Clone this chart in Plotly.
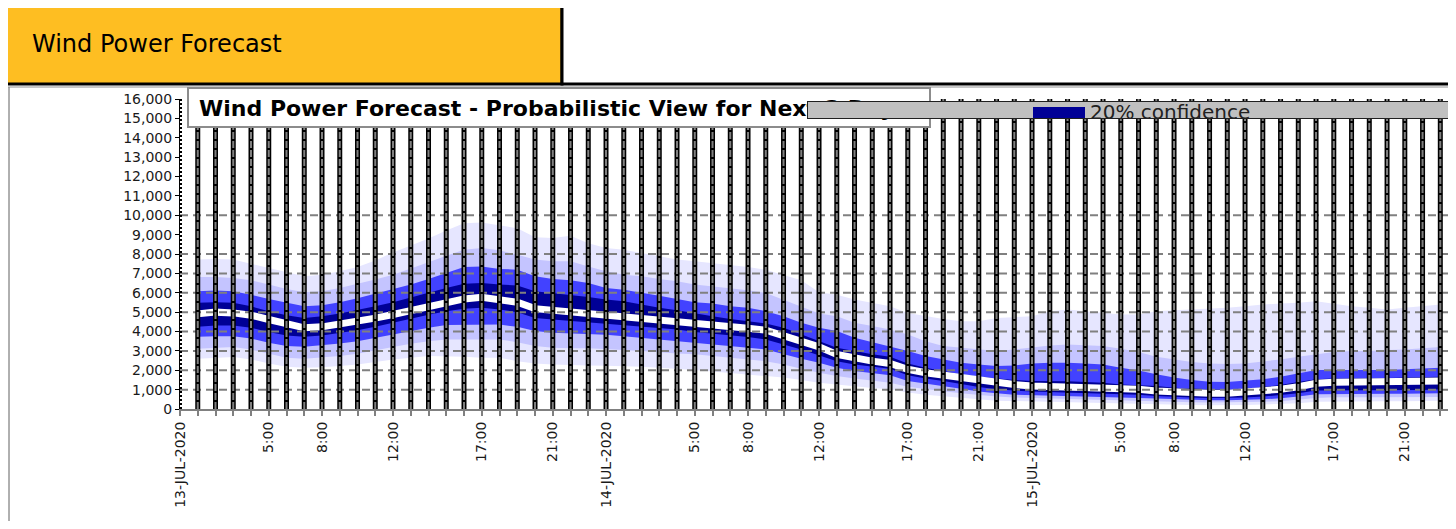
import plotly.graph_objects as go
import pandas as pd

# page body keeps an 8px margin, so the figure is sized to fit inside it
PAGE_OFF = 8
W, H = 1456 - 2 * PAGE_OFF, 529 - 2 * PAGE_OFF

# ---------------- data (MW) ----------------
hours = pd.date_range("2020-07-13 01:00", periods=71, freq="h")

median = [4910, 5000, 4960, 4840, 4620, 4380, 4190, 4240, 4360, 4500,
          4690, 4880, 5100, 5300, 5510, 5680, 5770, 5650, 5510, 5180,
          5100, 5030, 4960, 4890, 4790, 4720, 4650, 4570, 4450, 4360,
          4280, 4170, 4070, 3800, 3500, 3210, 2820, 2610, 2470, 2350,
          2050, 1870, 1750, 1620, 1450, 1330, 1260, 1190, 1170, 1150,
          1140, 1100, 1050, 1020, 930, 860, 830, 810, 810, 850,
          910, 1020, 1150, 1330, 1380, 1390, 1390, 1390, 1390, 1410, 1450]

conf20_high = [5480, 5510, 5480, 5300, 5050, 4840, 4700, 4790, 4930, 5100,
               5300, 5510, 5770, 6020, 6250, 6470, 6500, 6420, 6380, 6080,
               5990, 5900, 5780, 5650, 5560, 5390, 5220, 5100, 4930, 4790,
               4650, 4530, 4410, 4190, 3850, 3500, 3160, 2990, 2820, 2700,
               2350, 2130, 1960, 1790, 1670, 1570, 1500, 1450, 1450, 1430,
               1390, 1360, 1270, 1220, 1190, 1100, 1050, 1020, 1020, 1050,
               1140, 1240, 1390, 1530, 1580, 1600, 1600, 1600, 1620, 1630, 1670]
conf20_low = [4240, 4310, 4310, 4190, 3980, 3800, 3730, 3800, 3930, 4070,
              4240, 4450, 4650, 4860, 5050, 5180, 5220, 5130, 5000, 4700,
              4620, 4550, 4480, 4410, 4310, 4240, 4170, 4100, 3970, 3880,
              3800, 3710, 3590, 3330, 3070, 2780, 2470, 2300, 2180, 2080,
              1740, 1570, 1450, 1310, 1140, 1020, 950, 900, 850, 850,
              810, 790, 760, 730, 670, 620, 590, 570, 570, 590,
              640, 710, 810, 950, 980, 980, 980, 980, 980, 980, 1020]

conf40_high = [6080, 6110, 6080, 5900, 5680, 5480, 5300, 5360, 5510, 5720,
               5940, 6160, 6420, 6710, 7020, 7330, 7360, 7230, 7190, 6850,
               6710, 6640, 6500, 6250, 6160, 6020, 5850, 5680, 5510, 5440,
               5300, 5220, 5050, 4790, 4450, 4190, 4020, 3680, 3450, 3250,
               2990, 2730, 2560, 2390, 2300, 2220, 2250, 2350, 2390, 2390,
               2350, 2300, 2130, 1990, 1790, 1620, 1500, 1410, 1390, 1450,
               1530, 1670, 1840, 2010, 2010, 2010, 2010, 2010, 2050, 2080, 2130]
conf40_low = [3730, 3760, 3760, 3640, 3420, 3250, 3210, 3280, 3380, 3500,
              3680, 3850, 4020, 4190, 4330, 4360, 4360, 4360, 4240, 4020,
              3930, 3900, 3860, 3830, 3760, 3680, 3590, 3500, 3420, 3330,
              3250, 3160, 3070, 2820, 2590, 2390, 2130, 1960, 1840, 1740,
              1450, 1310, 1190, 1050, 900, 810, 740, 710, 670, 660,
              640, 620, 590, 570, 540, 500, 470, 450, 450, 470,
              500, 550, 640, 760, 790, 790, 790, 790, 790, 790, 810]

conf60_high = [6810, 6810, 6760, 6640, 6420, 6200, 6020, 6080, 6250, 6450,
               6680, 6930, 7230, 7570, 7910, 8220, 8310, 8190, 7960, 7710,
               7620, 7620, 7360, 7110, 6930, 6850, 6710, 6590, 6420, 6330,
               6250, 6130, 5990, 5650, 5300, 4930, 4790, 4450, 4280, 4100,
               3850, 3500, 3250, 3160, 3070, 2990, 3070, 3160, 3280, 3330,
               3280, 3250, 3110, 2940, 2700, 2560, 2420, 2350, 2320, 2350,
               2440, 2560, 2700, 2820, 2940, 2990, 2990, 3040, 3070, 3140, 3200]
conf60_low = [3110, 3160, 3200, 3070, 2850, 2650, 2590, 2650, 2730, 2850,
              3030, 3200, 3370, 3500, 3590, 3620, 3590, 3590, 3450, 3250,
              3160, 3140, 3130, 3090, 3040, 2990, 2940, 2870, 2820, 2730,
              2650, 2560, 2470, 2300, 2080, 1870, 1700, 1570, 1460, 1360,
              1150, 1020, 910, 810, 710, 640, 590, 550, 520, 500,
              490, 470, 450, 430, 400, 370, 350, 330, 330, 350,
              370, 400, 470, 570, 610, 610, 610, 610, 610, 610, 620]

conf80_high = [7710, 7740, 7710, 7500, 7280, 7050, 6850, 6930, 7110, 7330,
               7670, 8080, 8430, 8800, 9210, 9590, 9630, 9490, 9330, 8870,
               8820, 8940, 8560, 8310, 8220, 8050, 7880, 7710, 7620, 7530,
               7450, 7330, 7190, 6930, 6640, 6020, 5900, 5650, 5480, 5300,
               4960, 4790, 4650, 4530, 4530, 4700, 4760, 4790, 5050, 5130,
               5050, 4960, 4880, 4880, 5050, 5100, 5130, 5170, 5220, 5300,
               5390, 5440, 5480, 5560, 5440, 5300, 5220, 5130, 5220, 5300, 5390]
conf80_low = [2590, 2650, 2680, 2560, 2350, 2180, 2130, 2150, 2220, 2300,
              2420, 2560, 2650, 2730, 2730, 2700, 2650, 2650, 2470, 2350,
              2300, 2270, 2250, 2230, 2220, 2180, 2130, 2080, 2010, 1940,
              1870, 1790, 1700, 1620, 1500, 1360, 1270, 1190, 1090, 1020,
              850, 740, 660, 570, 500, 430, 400, 370, 350, 330,
              330, 310, 300, 280, 260, 230, 210, 190, 190, 210,
              230, 250, 300, 370, 400, 400, 400, 400, 400, 400, 420]

tick_times = ["2020-07-13 00:00", "2020-07-13 05:00", "2020-07-13 08:00",
              "2020-07-13 12:00", "2020-07-13 17:00", "2020-07-13 21:00",
              "2020-07-14 00:00", "2020-07-14 05:00", "2020-07-14 08:00",
              "2020-07-14 12:00", "2020-07-14 17:00", "2020-07-14 21:00",
              "2020-07-15 00:00", "2020-07-15 05:00", "2020-07-15 08:00",
              "2020-07-15 12:00", "2020-07-15 17:00", "2020-07-15 21:00"]
tick_labels = ["13-JUL-2020", "5:00", "8:00", "12:00", "17:00", "21:00",
               "14-JUL-2020", "5:00", "8:00", "12:00", "17:00", "21:00",
               "15-JUL-2020", "5:00", "8:00", "12:00", "17:00", "21:00"]
y_ticks = list(range(0, 16001, 1000))
dashed_levels = [1000, 2000, 3000, 4000, 5000, 6000, 7000, 8000, 10000]

header_title = "Wind Power Forecast"
chart_title = "Wind Power Forecast - Probabilistic View for Next 3 Days"
legend_label = "20% confidence"

# ---------------- styles ----------------
X_START = "2020-07-13 00:00"
X_END = "2020-07-15 23:26"
Y_MAX = 16000
FONT = "DejaVu Sans"
C_80 = "#E6E6FF"
C_60 = "#C4C4FF"
C_40 = "#4242FF"
C_20 = "#000096"


def px_x(x):
    """screen x (px) -> paper fraction"""
    return (x - PAGE_OFF) / W


def px_y(y):
    """screen y (px) -> paper fraction"""
    return 1 - (y - PAGE_OFF) / H


fig = go.Figure()
hx = list(hours)


def add_band(lo, hi, color, name):
    fig.add_trace(go.Scatter(
        x=hx + hx[::-1], y=list(hi) + list(lo)[::-1],
        fill="toself", fillcolor=color, mode="lines",
        line=dict(width=0), name=name, showlegend=False, hoverinfo="skip"))


add_band(conf80_low, conf80_high, C_80, "80% confidence")
add_band(conf60_low, conf60_high, C_60, "60% confidence")
add_band(conf40_low, conf40_high, C_40, "40% confidence")
add_band(conf20_low, conf20_high, C_20, "20% confidence")

fig.add_trace(go.Scatter(x=hx, y=median, mode="lines",
                         line=dict(color="white", width=7),
                         name="Forecast", showlegend=False, hoverinfo="skip"))

# horizontal dashed grid (drawn over the bands)
gx, gy = [], []
for lv in dashed_levels:
    gx += [X_START, X_END, None]
    gy += [lv, lv, None]
fig.add_trace(go.Scatter(x=gx, y=gy, mode="lines",
                         line=dict(color="#808080", width=2, dash="8px,5px"),
                         showlegend=False, hoverinfo="skip"))

# hourly vertical grid: black line with grey dashes inside
vx, vy = [], []
for t in hx:
    vx += [t, t, None]
    vy += [0, Y_MAX, None]
fig.add_trace(go.Scatter(x=vx, y=vy, mode="lines",
                         line=dict(color="black", width=5),
                         showlegend=False, hoverinfo="skip"))
fig.add_trace(go.Scatter(x=vx, y=vy, mode="lines",
                         line=dict(color="#808080", width=2, dash="7px,2px"),
                         showlegend=False, hoverinfo="skip"))
# dotted value axis line
fig.add_trace(go.Scatter(x=[X_START, X_START], y=[0, Y_MAX], mode="lines",
                         line=dict(color="black", width=4, dash="2px,2px"),
                         showlegend=False, hoverinfo="skip"))

fig.update_layout(
    width=W, height=H,
    margin=dict(l=0, r=0, t=0, b=0, autoexpand=False),
    paper_bgcolor="white", plot_bgcolor="white",
    showlegend=False,
    xaxis=dict(
        domain=[px_x(180), 1.0],
        type="date", range=[X_START, X_END],
        tickmode="array", tickvals=tick_times, ticktext=tick_labels,
        tickangle=-90, ticks="outside", ticklen=5, tickwidth=2,
        tickcolor="#808080",
        minor=dict(ticks="outside", dtick=3600000, tick0=X_START,
                   ticklen=5, tickwidth=2, tickcolor="#808080", showgrid=False),
        showgrid=False, zeroline=False,
        showline=True, linecolor="#808080", linewidth=2,
        tickfont=dict(family=FONT, size=14, color="#1a1a1a"),
    ),
    yaxis=dict(
        domain=[px_y(409), px_y(99)],
        range=[0, Y_MAX], tickmode="array", tickvals=y_ticks,
        tickformat=",d", ticks="outside", ticklen=4, tickcolor="black",
        showgrid=False, zeroline=False,
        showline=True, linecolor="black", linewidth=1,
        tickfont=dict(family=FONT, size=14, color="#1a1a1a"),
    ),
)

shapes = [
    # header boxes
    dict(type="rect", xref="paper", yref="paper",
         x0=px_x(3), x1=px_x(562), y0=px_y(84), y1=px_y(3),
         fillcolor="#FEBE22", line=dict(color="black", width=3), layer="above"),
    dict(type="rect", xref="paper", yref="paper",
         x0=px_x(562), x1=px_x(1452), y0=px_y(84), y1=px_y(3),
         fillcolor="white", line=dict(color="black", width=3), layer="above"),
    # chart frame
    dict(type="line", xref="paper", yref="paper",
         x0=px_x(9), x1=px_x(9), y0=px_y(87), y1=px_y(529),
         line=dict(color="#606060", width=1), layer="above"),
    dict(type="line", xref="paper", yref="paper",
         x0=px_x(8), x1=px_x(1456), y0=px_y(87), y1=px_y(87),
         line=dict(color="#909090", width=1), layer="above"),
    # chart title box
    dict(type="rect", xref="paper", yref="paper",
         x0=px_x(188), x1=px_x(930), y0=px_y(127), y1=px_y(88),
         fillcolor="white", line=dict(color="#8c8c8c", width=2), layer="above"),
]
fig.update_layout(shapes=shapes)

annotations = [
    dict(text=header_title, xref="paper", yref="paper",
         x=px_x(30), y=px_y(44), xanchor="left", yanchor="middle",
         showarrow=False, font=dict(family=FONT, size=24, color="black")),
    dict(text="<b>" + chart_title + "</b>", xref="paper", yref="paper",
         x=px_x(197), y=px_y(108), xanchor="left", yanchor="middle",
         showarrow=False, font=dict(family=FONT, size=22, color="black")),
    # legend strip (drawn over the title)
    dict(text=" ", xref="paper", yref="paper",
         x=px_x(807), y=px_y(101), xanchor="left", yanchor="top",
         width=660, height=16, bgcolor="#C0C0C0", bordercolor="#202020",
         borderwidth=1, borderpad=0, showarrow=False,
         font=dict(family=FONT, size=10)),
    dict(text=" ", xref="paper", yref="paper",
         x=px_x(1033), y=px_y(107), xanchor="left", yanchor="top",
         width=52, height=11, bgcolor=C_20, borderwidth=0, borderpad=0,
         showarrow=False, font=dict(family=FONT, size=8)),
    dict(text=legend_label, xref="paper", yref="paper",
         x=px_x(1088), y=px_y(112), xanchor="left", yanchor="middle",
         showarrow=False, font=dict(family=FONT, size=20, color="#222222")),
]
fig.update_layout(annotations=annotations)

fig.write_html("out.html", config={"displayModeBar": False})
